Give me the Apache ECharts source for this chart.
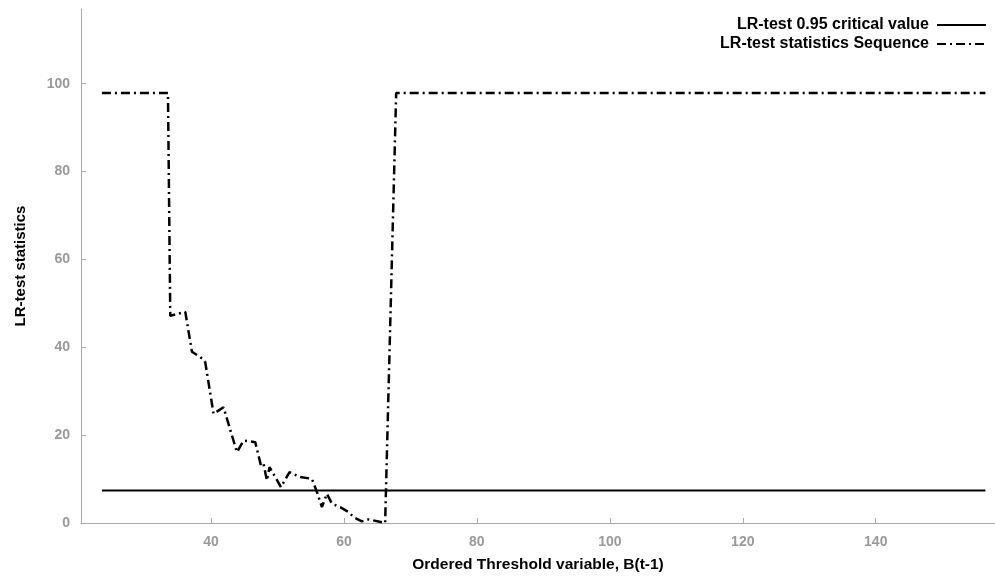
<!DOCTYPE html>
<html>
<head>
<meta charset="utf-8">
<script src="https://cdn.jsdelivr.net/npm/echarts@6/dist/echarts.min.js"></script>
<style>
  html, body { margin: 0; padding: 0; background: #fff; }
  #main { width: 995px; height: 578px; }
</style>
</head>
<body>
<div id="main"></div>
<script>
// threshold values and LR statistics
var thresholds = [23.6, 33.53, 33.88, 36.14, 37.14, 38.84, 39.14, 40.39, 41.89, 43.91, 44.9, 46.66,
    47.52, 47.9, 48.42, 48.81, 50.53, 51.82, 53.43, 55.19, 55.94, 56.69, 57.44, 58.2, 59.44,
    60.69, 61.44, 62.7, 63.7, 66.2, 66.4, 67.86, 156.5];
var lrStats = [97.9, 97.9, 47.15, 48.06, 38.97, 37.3, 36.6, 24.85, 26.35, 16.13, 18.76, 18.4,
    13.08, 13.47, 9.68, 12.72, 8.18, 11.58, 10.45, 10.06, 7.04, 3.63, 6.65, 4.38, 3.63,
    2.5, 1.36, 0.36, 0.82, 0, 0.1, 97.9, 97.9];
var critRange = [23.6, 156.5];
var critValue = 7.4;
var xTicks = [40, 60, 80, 100, 120, 140];
var yTicks = [0, 20, 40, 60, 80, 100];

var font = 'Liberation Sans';
var seqData = thresholds.map(function (x, i) { return [x, lrStats[i]]; });
var critData = critRange.map(function (x) { return [x, critValue]; });

var myChart = echarts.init(document.getElementById('main'));

myChart.setOption({
    animation: false,
    grid: {
        left: 81,
        right: 0,
        top: 9,
        bottom: 54
    },
    legend: {
        orient: 'vertical',
        right: 3,
        top: 12,
        align: 'right',
        itemWidth: 49,
        itemHeight: 14,
        itemGap: 3,
        itemStyle: { opacity: 0 },
        textStyle: {
            fontFamily: font,
            fontWeight: 'bold',
            fontSize: 16,
            color: '#000',
            padding: [0, 3, 0, 0]
        },
        data: ['LR-test 0.95 critical value', 'LR-test statistics Sequence']
    },
    xAxis: {
        type: 'value',
        min: 20.45,
        max: 157.94,
        name: 'Ordered Threshold variable, B(t-1)',
        nameLocation: 'middle',
        nameGap: 34,
        nameTextStyle: {
            fontFamily: font,
            fontWeight: 'bold',
            fontSize: 15.5,
            color: '#000'
        },
        splitLine: { show: false },
        axisLine: {
            onZero: false,
            lineStyle: { color: '#aaa', width: 1 }
        },
        axisTick: {
            inside: true,
            length: 5,
            customValues: xTicks,
            lineStyle: { color: '#aaa' }
        },
        axisLabel: {
            customValues: xTicks,
            margin: 12,
            fontFamily: font,
            fontWeight: 'bold',
            fontSize: 14,
            color: '#999'
        }
    },
    yAxis: {
        type: 'value',
        min: 0,
        max: 117,
        name: 'LR-test statistics',
        nameLocation: 'middle',
        nameGap: 53,
        nameTextStyle: {
            fontFamily: font,
            fontWeight: 'bold',
            fontSize: 15,
            color: '#000'
        },
        splitLine: { show: false },
        axisLine: {
            show: true,
            onZero: false,
            lineStyle: { color: '#aaa', width: 1 }
        },
        axisTick: {
            show: true,
            inside: true,
            length: 5,
            customValues: yTicks,
            lineStyle: { color: '#aaa' }
        },
        axisLabel: {
            customValues: yTicks,
            margin: 11,
            fontFamily: font,
            fontWeight: 'bold',
            fontSize: 14,
            color: '#999'
        }
    },
    series: [{
        name: 'LR-test 0.95 critical value',
        type: 'line',
        showSymbol: false,
        symbol: 'none',
        data: critData,
        itemStyle: { color: '#000' },
        lineStyle: { color: '#000', width: 2 }
    }, {
        name: 'LR-test statistics Sequence',
        type: 'line',
        showSymbol: false,
        symbol: 'none',
        data: seqData,
        itemStyle: { color: '#000' },
        lineStyle: { color: '#000', width: 2.5, type: [9, 4, 2, 4] }
    }]
});
</script>
</body>
</html>
